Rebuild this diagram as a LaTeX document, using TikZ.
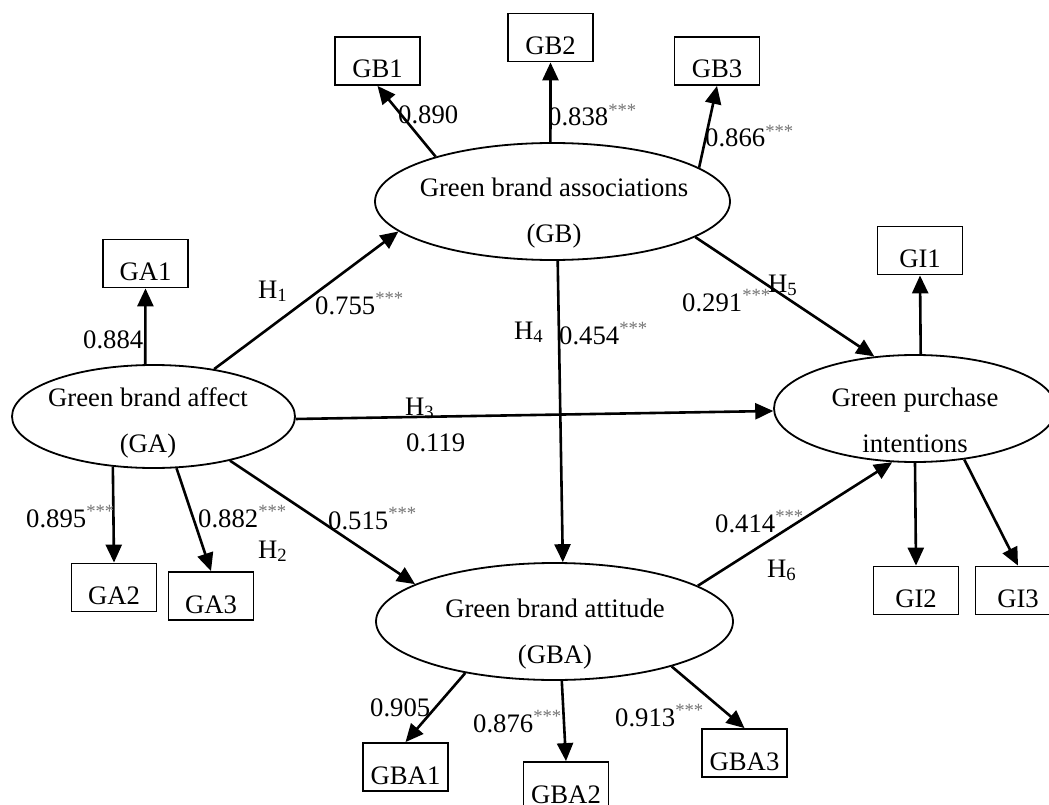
\documentclass[tikz,border=0pt]{standalone}
\usepackage{fontspec}
\setmainfont{Liberation Serif}
\usetikzlibrary{arrows.meta,shapes.geometric}
\newcommand{\sg}{\textsuperscript{\textcolor{black!55}{***}}}
\begin{document}
\begin{tikzpicture}[x=1pt,y=-1pt,
  every node/.style={font=\fontsize{26.7}{46}\selectfont},
  ind/.style={draw,line width=1.8pt,rectangle,minimum width=85pt,minimum height=48pt,inner sep=0pt,text height=34pt,text depth=0pt},
  lat/.style={draw,line width=1.8pt,ellipse,inner sep=0pt},
  ltxt/.style={align=center,inner sep=0pt},
  arr/.style={-{Triangle[length=18pt,width=16pt]},line width=2.6pt},
  lab/.style={anchor=base west,inner sep=0pt}]
\useasboundingbox (0,0) rectangle (1049,805);
% latent variables
\node[lat,minimum width=283pt,minimum height=103pt] (GA) at (153.5,416.5) {};
\node[lat,minimum width=355pt,minimum height=117pt] (GB) at (552.5,201.5) {};
\node[lat,minimum width=282pt,minimum height=107pt] (GPI) at (915,408.5) {};
\node[lat,minimum width=357pt,minimum height=117pt] (GBA) at (554.5,621.5) {};
\node[ltxt] (GAt) at (148,423) {Green brand affect\\(GA)};
\node[ltxt] (GBt) at (554,213) {Green brand associations\\(GB)};
\node[ltxt] (GPIt) at (915,420.5) {Green purchase\\intentions};
\node[ltxt] (GBAt) at (555,634) {Green brand attitude\\(GBA)};
% indicators
\node[ind] (GB1) at (377.5,61) {GB1};
\node[ind] (GB2) at (550.5,37.5) {GB2};
\node[ind] (GB3) at (717,61) {GB3};
\node[ind] (GA1) at (145.5,263.5) {GA1};
\node[ind] (GA2) at (114,587.5) {GA2};
\node[ind] (GA3) at (211,596) {GA3};
\node[ind] (GI1) at (920,250.5) {GI1};
\node[ind] (GI2) at (916,590.5) {GI2};
\node[ind] (GI3) at (1018,590.5) {GI3};
\node[ind] (GBA1) at (405.5,767) {GBA1};
\node[ind] (GBA2) at (566,786) {GBA2};
\node[ind] (GBA3) at (744.5,753) {GBA3};
% loadings
\draw[arr] (GB.159.9) -- (GB1.south);
\draw[arr] (GB.92) -- (GB2.south);
\draw[arr] (GB.13.8) -- (GB3.south);
\draw[arr] (GA.99.4) -- (GA1.south);
\draw[arr] (GA.231.4) -- (GA2.north);
\draw[arr] (GA.-66.9) -- (GA3.north);
\draw[arr] (GPI.84.7) -- (GI1.south);
\draw[arr] (GPI.south) -- (GI2.north);
\draw[arr] (GPI.-46.4) -- (GI3.north);
\draw[arr] (GBA.210.2) -- (GBA1.north);
\draw[arr] (GBA.-83.7) -- (GBA2.north);
\draw[arr] (GBA.-21.9) -- (GBA3.north);
% structural paths
\draw[arr] (GA.38.7) -- (GB.191.3);
\draw[arr] (GA.-1.5) -- (GPI.181.4);
\draw[arr] (GA.-30.6) -- (GBA.165.4);
\draw[arr] (GB.-85.6) -- (GBA.82.7);
\draw[arr] (GB.-14.4) -- (GPI.128.1);
\draw[arr] (GBA.14.5) -- (GPI.247.2);
% labels
\node[lab] (l1) at (398,124) {0.890};
\node[lab] (l2) at (548,126) {0.838\sg};
\node[lab] (l3) at (705,147) {0.866\sg};
\node[lab] (l4) at (83,348) {0.884};
\node[lab] (h1) at (258,298) {H\textsubscript{1}};
\node[lab] (l5) at (315,314) {0.755\sg};
\node[lab] (h4) at (514,339) {H\textsubscript{4}};
\node[lab] (l6) at (559,344) {0.454\sg};
\node[lab] (h5) at (768,292) {H\textsubscript{5}};
\node[lab] (l7) at (682,311) {0.291\sg};
\node[lab] (h3) at (405,415) {H\textsubscript{3}};
\node[lab] (l8) at (406,451) {0.119};
\node[lab] (l9) at (26,527) {0.895\sg};
\node[lab] (l10) at (198,527) {0.882\sg};
\node[lab] (h2) at (258,558) {H\textsubscript{2}};
\node[lab] (l11) at (328,529) {0.515\sg};
\node[lab] (l12) at (715,532) {0.414\sg};
\node[lab] (h6) at (767,577) {H\textsubscript{6}};
\node[lab] (l13) at (370,716) {0.905};
\node[lab] (l14) at (473,732) {0.876\sg};
\node[lab] (l15) at (615,726) {0.913\sg};
\end{tikzpicture}
\end{document}
